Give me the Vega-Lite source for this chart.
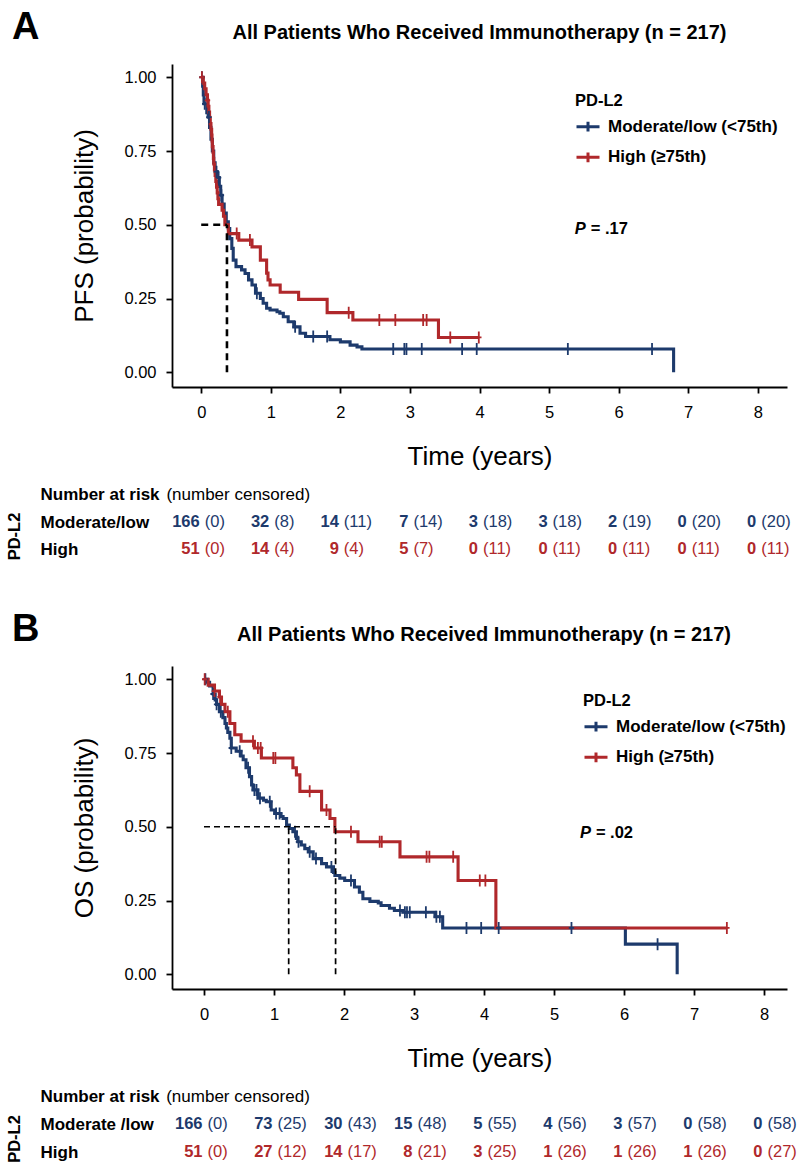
{
  "$schema": "https://vega.github.io/schema/vega-lite/v6.json",
  "padding": {"left": 6, "top": 8, "right": 5, "bottom": 5},
  "bounds": "flush",
  "spacing": 94.5,
  "config": {
    "font": "Liberation Sans",
    "view": {"stroke": null},
    "axis": {
      "grid": false,
      "domainColor": "black", "domainWidth": 1.8,
      "tickColor": "black", "tickWidth": 1.8, "tickSize": 6,
      "labelFont": "Liberation Sans", "labelFontSize": 16.5, "labelColor": "black",
      "titleFont": "Liberation Sans", "titleFontSize": 26, "titleFontWeight": "normal", "titleColor": "black"
    },
    "legend": {
      "titleFont": "Liberation Sans", "labelFont": "Liberation Sans",
      "titleFontSize": 16.5, "titleFontWeight": "bold", "titleColor": "black",
      "labelFontSize": 17, "labelFontWeight": "bold", "labelColor": "black", "labelLimit": 300,
      "symbolType": "M-1,0H1M0,-0.42V0.42", "symbolSize": 529, "symbolStrokeWidth": 3,
      "symbolFillColor": "transparent",
      "titlePadding": 4.7, "rowPadding": 6.6, "labelOffset": 7, "padding": 0
    }
  },
  "resolve": {"scale": {"x": "independent", "y": "independent", "color": "independent"}, "legend": {"color": "independent"}},
  "datasets": {
    "kmA": [
      {"g": "Moderate/low (<75th)", "t": 0, "s": 1},
      {"g": "Moderate/low (<75th)", "t": 0.02, "s": 0.97},
      {"g": "Moderate/low (<75th)", "t": 0.03, "s": 0.94},
      {"g": "Moderate/low (<75th)", "t": 0.04, "s": 0.91},
      {"g": "Moderate/low (<75th)", "t": 0.08, "s": 0.88},
      {"g": "Moderate/low (<75th)", "t": 0.1, "s": 0.865},
      {"g": "Moderate/low (<75th)", "t": 0.12, "s": 0.83},
      {"g": "Moderate/low (<75th)", "t": 0.14, "s": 0.79},
      {"g": "Moderate/low (<75th)", "t": 0.16, "s": 0.75},
      {"g": "Moderate/low (<75th)", "t": 0.18, "s": 0.71},
      {"g": "Moderate/low (<75th)", "t": 0.2, "s": 0.68},
      {"g": "Moderate/low (<75th)", "t": 0.23, "s": 0.66},
      {"g": "Moderate/low (<75th)", "t": 0.26, "s": 0.63},
      {"g": "Moderate/low (<75th)", "t": 0.28, "s": 0.6},
      {"g": "Moderate/low (<75th)", "t": 0.3, "s": 0.57},
      {"g": "Moderate/low (<75th)", "t": 0.33, "s": 0.54},
      {"g": "Moderate/low (<75th)", "t": 0.36, "s": 0.51},
      {"g": "Moderate/low (<75th)", "t": 0.39, "s": 0.487},
      {"g": "Moderate/low (<75th)", "t": 0.41, "s": 0.453},
      {"g": "Moderate/low (<75th)", "t": 0.44, "s": 0.42},
      {"g": "Moderate/low (<75th)", "t": 0.46, "s": 0.38},
      {"g": "Moderate/low (<75th)", "t": 0.5, "s": 0.358},
      {"g": "Moderate/low (<75th)", "t": 0.58, "s": 0.347},
      {"g": "Moderate/low (<75th)", "t": 0.63, "s": 0.335},
      {"g": "Moderate/low (<75th)", "t": 0.68, "s": 0.313},
      {"g": "Moderate/low (<75th)", "t": 0.73, "s": 0.296},
      {"g": "Moderate/low (<75th)", "t": 0.78, "s": 0.268},
      {"g": "Moderate/low (<75th)", "t": 0.85, "s": 0.25},
      {"g": "Moderate/low (<75th)", "t": 0.89, "s": 0.234},
      {"g": "Moderate/low (<75th)", "t": 0.94, "s": 0.217},
      {"g": "Moderate/low (<75th)", "t": 0.99, "s": 0.211},
      {"g": "Moderate/low (<75th)", "t": 1.09, "s": 0.205},
      {"g": "Moderate/low (<75th)", "t": 1.13, "s": 0.2},
      {"g": "Moderate/low (<75th)", "t": 1.18, "s": 0.188},
      {"g": "Moderate/low (<75th)", "t": 1.25, "s": 0.171},
      {"g": "Moderate/low (<75th)", "t": 1.33, "s": 0.154},
      {"g": "Moderate/low (<75th)", "t": 1.42, "s": 0.132},
      {"g": "Moderate/low (<75th)", "t": 1.5, "s": 0.121},
      {"g": "Moderate/low (<75th)", "t": 1.85, "s": 0.11},
      {"g": "Moderate/low (<75th)", "t": 2.0, "s": 0.103},
      {"g": "Moderate/low (<75th)", "t": 2.14, "s": 0.092},
      {"g": "Moderate/low (<75th)", "t": 2.24, "s": 0.086},
      {"g": "Moderate/low (<75th)", "t": 2.31, "s": 0.079},
      {"g": "Moderate/low (<75th)", "t": 6.79, "s": 0},
      {"g": "High (≥75th)", "t": 0, "s": 1},
      {"g": "High (≥75th)", "t": 0.03, "s": 0.98},
      {"g": "High (≥75th)", "t": 0.05, "s": 0.961},
      {"g": "High (≥75th)", "t": 0.07, "s": 0.941},
      {"g": "High (≥75th)", "t": 0.09, "s": 0.922},
      {"g": "High (≥75th)", "t": 0.1, "s": 0.902},
      {"g": "High (≥75th)", "t": 0.11, "s": 0.882},
      {"g": "High (≥75th)", "t": 0.12, "s": 0.863},
      {"g": "High (≥75th)", "t": 0.13, "s": 0.843},
      {"g": "High (≥75th)", "t": 0.14, "s": 0.824},
      {"g": "High (≥75th)", "t": 0.15, "s": 0.804},
      {"g": "High (≥75th)", "t": 0.155, "s": 0.784},
      {"g": "High (≥75th)", "t": 0.16, "s": 0.765},
      {"g": "High (≥75th)", "t": 0.17, "s": 0.745},
      {"g": "High (≥75th)", "t": 0.175, "s": 0.725},
      {"g": "High (≥75th)", "t": 0.18, "s": 0.706},
      {"g": "High (≥75th)", "t": 0.19, "s": 0.686},
      {"g": "High (≥75th)", "t": 0.2, "s": 0.667},
      {"g": "High (≥75th)", "t": 0.21, "s": 0.647},
      {"g": "High (≥75th)", "t": 0.22, "s": 0.627},
      {"g": "High (≥75th)", "t": 0.23, "s": 0.608},
      {"g": "High (≥75th)", "t": 0.24, "s": 0.588},
      {"g": "High (≥75th)", "t": 0.25, "s": 0.569},
      {"g": "High (≥75th)", "t": 0.3, "s": 0.549},
      {"g": "High (≥75th)", "t": 0.32, "s": 0.529},
      {"g": "High (≥75th)", "t": 0.34, "s": 0.5},
      {"g": "High (≥75th)", "t": 0.39, "s": 0.47},
      {"g": "High (≥75th)", "t": 0.54, "s": 0.448},
      {"g": "High (≥75th)", "t": 0.73, "s": 0.425},
      {"g": "High (≥75th)", "t": 0.85, "s": 0.38},
      {"g": "High (≥75th)", "t": 0.94, "s": 0.336},
      {"g": "High (≥75th)", "t": 0.96, "s": 0.313},
      {"g": "High (≥75th)", "t": 0.99, "s": 0.296},
      {"g": "High (≥75th)", "t": 1.135, "s": 0.271},
      {"g": "High (≥75th)", "t": 1.4, "s": 0.247},
      {"g": "High (≥75th)", "t": 1.81, "s": 0.202},
      {"g": "High (≥75th)", "t": 2.18, "s": 0.177},
      {"g": "High (≥75th)", "t": 3.41, "s": 0.118},
      {"g": "High (≥75th)", "t": 3.99, "s": 0.118}
    ],
    "cenA": [
      {"g": "Moderate/low (<75th)", "t": 0.01, "s": 1},
      {"g": "Moderate/low (<75th)", "t": 0.05, "s": 0.91},
      {"g": "Moderate/low (<75th)", "t": 0.11, "s": 0.865},
      {"g": "Moderate/low (<75th)", "t": 0.22, "s": 0.68},
      {"g": "Moderate/low (<75th)", "t": 0.25, "s": 0.66},
      {"g": "Moderate/low (<75th)", "t": 0.29, "s": 0.6},
      {"g": "Moderate/low (<75th)", "t": 0.8, "s": 0.268},
      {"g": "Moderate/low (<75th)", "t": 1.35, "s": 0.154},
      {"g": "Moderate/low (<75th)", "t": 1.61, "s": 0.121},
      {"g": "Moderate/low (<75th)", "t": 1.81, "s": 0.121},
      {"g": "Moderate/low (<75th)", "t": 2.76, "s": 0.079},
      {"g": "Moderate/low (<75th)", "t": 2.92, "s": 0.079},
      {"g": "Moderate/low (<75th)", "t": 2.95, "s": 0.079},
      {"g": "Moderate/low (<75th)", "t": 3.17, "s": 0.079},
      {"g": "Moderate/low (<75th)", "t": 3.75, "s": 0.079},
      {"g": "Moderate/low (<75th)", "t": 3.96, "s": 0.079},
      {"g": "Moderate/low (<75th)", "t": 5.27, "s": 0.079},
      {"g": "Moderate/low (<75th)", "t": 6.48, "s": 0.079},
      {"g": "High (≥75th)", "t": 0.01, "s": 1},
      {"g": "High (≥75th)", "t": 0.09, "s": 0.922},
      {"g": "High (≥75th)", "t": 0.51, "s": 0.47},
      {"g": "High (≥75th)", "t": 0.7, "s": 0.448},
      {"g": "High (≥75th)", "t": 2.12, "s": 0.202},
      {"g": "High (≥75th)", "t": 2.56, "s": 0.177},
      {"g": "High (≥75th)", "t": 2.79, "s": 0.177},
      {"g": "High (≥75th)", "t": 3.19, "s": 0.177},
      {"g": "High (≥75th)", "t": 3.24, "s": 0.177},
      {"g": "High (≥75th)", "t": 3.58, "s": 0.118},
      {"g": "High (≥75th)", "t": 3.99, "s": 0.118}
    ],
    "medA": [
      {"x1": 0, "x2": 0.37, "y1": 0.5, "y2": 0.5},
      {"x1": 0.37, "x2": 0.37, "y1": 0, "y2": 0.5}
    ],
    "kmB": [
      {"g": "Moderate/low (<75th)", "t": 0, "s": 1},
      {"g": "Moderate/low (<75th)", "t": 0.05, "s": 0.99},
      {"g": "Moderate/low (<75th)", "t": 0.08, "s": 0.977},
      {"g": "Moderate/low (<75th)", "t": 0.13, "s": 0.95},
      {"g": "Moderate/low (<75th)", "t": 0.16, "s": 0.93},
      {"g": "Moderate/low (<75th)", "t": 0.18, "s": 0.915},
      {"g": "Moderate/low (<75th)", "t": 0.22, "s": 0.89},
      {"g": "Moderate/low (<75th)", "t": 0.27, "s": 0.87},
      {"g": "Moderate/low (<75th)", "t": 0.3, "s": 0.85},
      {"g": "Moderate/low (<75th)", "t": 0.32, "s": 0.835},
      {"g": "Moderate/low (<75th)", "t": 0.34, "s": 0.82},
      {"g": "Moderate/low (<75th)", "t": 0.37, "s": 0.8},
      {"g": "Moderate/low (<75th)", "t": 0.39, "s": 0.767},
      {"g": "Moderate/low (<75th)", "t": 0.46, "s": 0.756},
      {"g": "Moderate/low (<75th)", "t": 0.53, "s": 0.74},
      {"g": "Moderate/low (<75th)", "t": 0.56, "s": 0.727},
      {"g": "Moderate/low (<75th)", "t": 0.6, "s": 0.7},
      {"g": "Moderate/low (<75th)", "t": 0.65, "s": 0.67},
      {"g": "Moderate/low (<75th)", "t": 0.68, "s": 0.642},
      {"g": "Moderate/low (<75th)", "t": 0.7, "s": 0.625},
      {"g": "Moderate/low (<75th)", "t": 0.77, "s": 0.597},
      {"g": "Moderate/low (<75th)", "t": 0.85, "s": 0.59},
      {"g": "Moderate/low (<75th)", "t": 0.89, "s": 0.585},
      {"g": "Moderate/low (<75th)", "t": 0.96, "s": 0.557},
      {"g": "Moderate/low (<75th)", "t": 1.01, "s": 0.545},
      {"g": "Moderate/low (<75th)", "t": 1.1, "s": 0.535},
      {"g": "Moderate/low (<75th)", "t": 1.13, "s": 0.528},
      {"g": "Moderate/low (<75th)", "t": 1.18, "s": 0.506},
      {"g": "Moderate/low (<75th)", "t": 1.22, "s": 0.494},
      {"g": "Moderate/low (<75th)", "t": 1.27, "s": 0.483},
      {"g": "Moderate/low (<75th)", "t": 1.32, "s": 0.46},
      {"g": "Moderate/low (<75th)", "t": 1.34, "s": 0.449},
      {"g": "Moderate/low (<75th)", "t": 1.39, "s": 0.438},
      {"g": "Moderate/low (<75th)", "t": 1.44, "s": 0.426},
      {"g": "Moderate/low (<75th)", "t": 1.49, "s": 0.415},
      {"g": "Moderate/low (<75th)", "t": 1.56, "s": 0.392},
      {"g": "Moderate/low (<75th)", "t": 1.68, "s": 0.375},
      {"g": "Moderate/low (<75th)", "t": 1.75, "s": 0.364},
      {"g": "Moderate/low (<75th)", "t": 1.85, "s": 0.345},
      {"g": "Moderate/low (<75th)", "t": 1.87, "s": 0.335},
      {"g": "Moderate/low (<75th)", "t": 1.94, "s": 0.326},
      {"g": "Moderate/low (<75th)", "t": 2.01, "s": 0.318},
      {"g": "Moderate/low (<75th)", "t": 2.15, "s": 0.296},
      {"g": "Moderate/low (<75th)", "t": 2.22, "s": 0.278},
      {"g": "Moderate/low (<75th)", "t": 2.27, "s": 0.256},
      {"g": "Moderate/low (<75th)", "t": 2.37, "s": 0.247},
      {"g": "Moderate/low (<75th)", "t": 2.49, "s": 0.242},
      {"g": "Moderate/low (<75th)", "t": 2.53, "s": 0.233},
      {"g": "Moderate/low (<75th)", "t": 2.65, "s": 0.224},
      {"g": "Moderate/low (<75th)", "t": 2.72, "s": 0.216},
      {"g": "Moderate/low (<75th)", "t": 2.84, "s": 0.21},
      {"g": "Moderate/low (<75th)", "t": 3.3, "s": 0.195},
      {"g": "Moderate/low (<75th)", "t": 3.41, "s": 0.157},
      {"g": "Moderate/low (<75th)", "t": 6.02, "s": 0.102},
      {"g": "Moderate/low (<75th)", "t": 6.76, "s": 0},
      {"g": "High (≥75th)", "t": 0, "s": 1},
      {"g": "High (≥75th)", "t": 0.06, "s": 0.98},
      {"g": "High (≥75th)", "t": 0.15, "s": 0.96},
      {"g": "High (≥75th)", "t": 0.22, "s": 0.94},
      {"g": "High (≥75th)", "t": 0.25, "s": 0.915},
      {"g": "High (≥75th)", "t": 0.3, "s": 0.89},
      {"g": "High (≥75th)", "t": 0.37, "s": 0.85},
      {"g": "High (≥75th)", "t": 0.44, "s": 0.812},
      {"g": "High (≥75th)", "t": 0.53, "s": 0.79},
      {"g": "High (≥75th)", "t": 0.72, "s": 0.767},
      {"g": "High (≥75th)", "t": 0.82, "s": 0.733},
      {"g": "High (≥75th)", "t": 1.27, "s": 0.7},
      {"g": "High (≥75th)", "t": 1.32, "s": 0.676},
      {"g": "High (≥75th)", "t": 1.37, "s": 0.62},
      {"g": "High (≥75th)", "t": 1.68, "s": 0.557},
      {"g": "High (≥75th)", "t": 1.8, "s": 0.528},
      {"g": "High (≥75th)", "t": 1.87, "s": 0.483},
      {"g": "High (≥75th)", "t": 2.2, "s": 0.449},
      {"g": "High (≥75th)", "t": 2.8, "s": 0.398},
      {"g": "High (≥75th)", "t": 3.63, "s": 0.318},
      {"g": "High (≥75th)", "t": 4.17, "s": 0.157},
      {"g": "High (≥75th)", "t": 7.47, "s": 0.157}
    ],
    "cenB": [
      {"g": "Moderate/low (<75th)", "t": 0.02, "s": 1},
      {"g": "Moderate/low (<75th)", "t": 0.13, "s": 0.95},
      {"g": "Moderate/low (<75th)", "t": 0.18, "s": 0.915},
      {"g": "Moderate/low (<75th)", "t": 0.24, "s": 0.89},
      {"g": "Moderate/low (<75th)", "t": 0.39, "s": 0.767},
      {"g": "Moderate/low (<75th)", "t": 0.51, "s": 0.756},
      {"g": "Moderate/low (<75th)", "t": 0.63, "s": 0.7},
      {"g": "Moderate/low (<75th)", "t": 0.72, "s": 0.625},
      {"g": "Moderate/low (<75th)", "t": 0.75, "s": 0.625},
      {"g": "Moderate/low (<75th)", "t": 0.8, "s": 0.597},
      {"g": "Moderate/low (<75th)", "t": 0.94, "s": 0.585},
      {"g": "Moderate/low (<75th)", "t": 1.03, "s": 0.545},
      {"g": "Moderate/low (<75th)", "t": 1.08, "s": 0.545},
      {"g": "Moderate/low (<75th)", "t": 1.3, "s": 0.483},
      {"g": "Moderate/low (<75th)", "t": 1.35, "s": 0.449},
      {"g": "Moderate/low (<75th)", "t": 1.51, "s": 0.415},
      {"g": "Moderate/low (<75th)", "t": 1.6, "s": 0.392},
      {"g": "Moderate/low (<75th)", "t": 1.82, "s": 0.364},
      {"g": "Moderate/low (<75th)", "t": 2.1, "s": 0.318},
      {"g": "Moderate/low (<75th)", "t": 2.8, "s": 0.216},
      {"g": "Moderate/low (<75th)", "t": 2.87, "s": 0.21},
      {"g": "Moderate/low (<75th)", "t": 2.9, "s": 0.21},
      {"g": "Moderate/low (<75th)", "t": 2.94, "s": 0.21},
      {"g": "Moderate/low (<75th)", "t": 3.17, "s": 0.21},
      {"g": "Moderate/low (<75th)", "t": 3.32, "s": 0.195},
      {"g": "Moderate/low (<75th)", "t": 3.37, "s": 0.195},
      {"g": "Moderate/low (<75th)", "t": 3.75, "s": 0.157},
      {"g": "Moderate/low (<75th)", "t": 3.96, "s": 0.157},
      {"g": "Moderate/low (<75th)", "t": 4.21, "s": 0.157},
      {"g": "Moderate/low (<75th)", "t": 5.25, "s": 0.157},
      {"g": "Moderate/low (<75th)", "t": 6.48, "s": 0.102},
      {"g": "High (≥75th)", "t": 0.01, "s": 1},
      {"g": "High (≥75th)", "t": 0.15, "s": 0.96},
      {"g": "High (≥75th)", "t": 0.23, "s": 0.94},
      {"g": "High (≥75th)", "t": 0.34, "s": 0.89},
      {"g": "High (≥75th)", "t": 0.7, "s": 0.79},
      {"g": "High (≥75th)", "t": 0.77, "s": 0.767},
      {"g": "High (≥75th)", "t": 0.81, "s": 0.767},
      {"g": "High (≥75th)", "t": 0.99, "s": 0.733},
      {"g": "High (≥75th)", "t": 1.02, "s": 0.733},
      {"g": "High (≥75th)", "t": 1.51, "s": 0.62},
      {"g": "High (≥75th)", "t": 1.75, "s": 0.557},
      {"g": "High (≥75th)", "t": 2.1, "s": 0.483},
      {"g": "High (≥75th)", "t": 2.51, "s": 0.449},
      {"g": "High (≥75th)", "t": 2.54, "s": 0.449},
      {"g": "High (≥75th)", "t": 3.18, "s": 0.398},
      {"g": "High (≥75th)", "t": 3.22, "s": 0.398},
      {"g": "High (≥75th)", "t": 3.56, "s": 0.398},
      {"g": "High (≥75th)", "t": 3.94, "s": 0.318},
      {"g": "High (≥75th)", "t": 4.02, "s": 0.318},
      {"g": "High (≥75th)", "t": 7.47, "s": 0.157}
    ],
    "medB": [
      {"x1": 0, "x2": 1.88, "y1": 0.5, "y2": 0.5},
      {"x1": 1.21, "x2": 1.21, "y1": 0, "y2": 0.5},
      {"x1": 1.88, "x2": 1.88, "y1": 0, "y2": 0.5}
    ],
    "riskA": [
      {"row": "Moderate/low", "g": "Moderate/low (<75th)", "t": 0, "n": 166, "cens": "(0)"},
      {"row": "Moderate/low", "g": "Moderate/low (<75th)", "t": 1, "n": 32, "cens": "(8)"},
      {"row": "Moderate/low", "g": "Moderate/low (<75th)", "t": 2, "n": 14, "cens": "(11)"},
      {"row": "Moderate/low", "g": "Moderate/low (<75th)", "t": 3, "n": 7, "cens": "(14)"},
      {"row": "Moderate/low", "g": "Moderate/low (<75th)", "t": 4, "n": 3, "cens": "(18)"},
      {"row": "Moderate/low", "g": "Moderate/low (<75th)", "t": 5, "n": 3, "cens": "(18)"},
      {"row": "Moderate/low", "g": "Moderate/low (<75th)", "t": 6, "n": 2, "cens": "(19)"},
      {"row": "Moderate/low", "g": "Moderate/low (<75th)", "t": 7, "n": 0, "cens": "(20)"},
      {"row": "Moderate/low", "g": "Moderate/low (<75th)", "t": 8, "n": 0, "cens": "(20)"},
      {"row": "High", "g": "High (≥75th)", "t": 0, "n": 51, "cens": "(0)"},
      {"row": "High", "g": "High (≥75th)", "t": 1, "n": 14, "cens": "(4)"},
      {"row": "High", "g": "High (≥75th)", "t": 2, "n": 9, "cens": "(4)"},
      {"row": "High", "g": "High (≥75th)", "t": 3, "n": 5, "cens": "(7)"},
      {"row": "High", "g": "High (≥75th)", "t": 4, "n": 0, "cens": "(11)"},
      {"row": "High", "g": "High (≥75th)", "t": 5, "n": 0, "cens": "(11)"},
      {"row": "High", "g": "High (≥75th)", "t": 6, "n": 0, "cens": "(11)"},
      {"row": "High", "g": "High (≥75th)", "t": 7, "n": 0, "cens": "(11)"},
      {"row": "High", "g": "High (≥75th)", "t": 8, "n": 0, "cens": "(11)"}
    ],
    "riskB": [
      {"row": "Moderate /low", "g": "Moderate/low (<75th)", "t": 0, "n": 166, "cens": "(0)"},
      {"row": "Moderate /low", "g": "Moderate/low (<75th)", "t": 1, "n": 73, "cens": "(25)"},
      {"row": "Moderate /low", "g": "Moderate/low (<75th)", "t": 2, "n": 30, "cens": "(43)"},
      {"row": "Moderate /low", "g": "Moderate/low (<75th)", "t": 3, "n": 15, "cens": "(48)"},
      {"row": "Moderate /low", "g": "Moderate/low (<75th)", "t": 4, "n": 5, "cens": "(55)"},
      {"row": "Moderate /low", "g": "Moderate/low (<75th)", "t": 5, "n": 4, "cens": "(56)"},
      {"row": "Moderate /low", "g": "Moderate/low (<75th)", "t": 6, "n": 3, "cens": "(57)"},
      {"row": "Moderate /low", "g": "Moderate/low (<75th)", "t": 7, "n": 0, "cens": "(58)"},
      {"row": "Moderate /low", "g": "Moderate/low (<75th)", "t": 8, "n": 0, "cens": "(58)"},
      {"row": "High", "g": "High (≥75th)", "t": 0, "n": 51, "cens": "(0)"},
      {"row": "High", "g": "High (≥75th)", "t": 1, "n": 27, "cens": "(12)"},
      {"row": "High", "g": "High (≥75th)", "t": 2, "n": 14, "cens": "(17)"},
      {"row": "High", "g": "High (≥75th)", "t": 3, "n": 8, "cens": "(21)"},
      {"row": "High", "g": "High (≥75th)", "t": 4, "n": 3, "cens": "(25)"},
      {"row": "High", "g": "High (≥75th)", "t": 5, "n": 1, "cens": "(26)"},
      {"row": "High", "g": "High (≥75th)", "t": 6, "n": 1, "cens": "(26)"},
      {"row": "High", "g": "High (≥75th)", "t": 7, "n": 1, "cens": "(26)"},
      {"row": "High", "g": "High (≥75th)", "t": 8, "n": 0, "cens": "(27)"}
    ]
  },
  "vconcat": [
    {
      "width": 615, "height": 323,
      "encoding": {
        "x": {"type": "quantitative", "scale": {"domain": [-0.42, 8.42], "nice": false, "zero": false}},
        "y": {"type": "quantitative", "scale": {"domain": [-0.05, 1.045], "nice": false, "zero": false}}
      },
      "layer": [
        {
          "data": {"name": "kmA"},
          "mark": {"type": "line", "interpolate": "step-after", "strokeWidth": 3.1},
          "encoding": {
            "x": {"field": "t", "type": "quantitative", "axis": {"values": [0,1,2,3,4,5,6,7,8], "format": "d", "title": "Time (years)", "labelPadding": 11, "titlePadding": 23}},
            "y": {"field": "s", "type": "quantitative", "axis": {"values": [0,0.25,0.5,0.75,1], "format": ".2f", "title": "PFS (probability)", "labelPadding": 10, "titlePadding": 26}},
            "color": {"field": "g", "type": "nominal", "scale": {"domain": ["Moderate/low (<75th)", "High (≥75th)"], "range": ["#1d3a6c", "#b0282b"]},
              "legend": {"title": "PD-L2", "orient": "none", "legendX": 403, "legendY": 28.5}}
          }
        },
        {
          "data": {"name": "cenA"},
          "mark": {"type": "point", "shape": "M0,-1V1M-0.45,0H0.45", "size": 144, "strokeWidth": 1.8, "filled": false, "opacity": 1},
          "encoding": {
            "x": {"field": "t", "type": "quantitative"},
            "y": {"field": "s", "type": "quantitative"},
            "color": {"field": "g", "type": "nominal"}
          }
        },
        {
          "data": {"name": "medA"},
          "mark": {"type": "rule", "color": "black", "strokeWidth": 2.6, "strokeDash": [7, 5]},
          "encoding": {
            "x": {"field": "x1", "type": "quantitative"}, "x2": {"field": "x2"},
            "y": {"field": "y1", "type": "quantitative"}, "y2": {"field": "y2"}
          }
        },
        {
          "data": {"values": [{"lab": "A"}]},
          "mark": {"type": "text", "fontSize": 38, "fontWeight": "bold", "align": "left", "baseline": "alphabetic", "color": "black"},
          "encoding": {"x": {"datum": -2.72, "type": "quantitative"}, "y": {"datum": 1.13, "type": "quantitative"}, "text": {"field": "lab"}}
        },
        {
          "data": {"values": [{"lab": "All Patients Who Received Immunotherapy (n = 217)"}]},
          "mark": {"type": "text", "fontSize": 20, "fontWeight": "bold", "align": "center", "baseline": "alphabetic", "color": "black"},
          "encoding": {"x": {"datum": 4.0, "type": "quantitative"}, "y": {"datum": 1.13, "type": "quantitative"}, "text": {"field": "lab"}}
        },
        {
          "data": {"values": [{"lab": "P"}]},
          "mark": {"type": "text", "fontSize": 16.5, "fontWeight": "bold", "fontStyle": "italic", "align": "left", "baseline": "middle", "color": "black"},
          "encoding": {"x": {"datum": 5.37, "type": "quantitative"}, "y": {"datum": 0.486, "type": "quantitative"}, "text": {"field": "lab"}}
        },
        {
          "data": {"values": [{"lab": "= .17"}]},
          "mark": {"type": "text", "fontSize": 16.5, "fontWeight": "bold", "align": "left", "baseline": "middle", "dx": 16, "color": "black"},
          "encoding": {"x": {"datum": 5.37, "type": "quantitative"}, "y": {"datum": 0.486, "type": "quantitative"}, "text": {"field": "lab"}}
        }
      ]
    },
    {
      "width": 615, "height": 90,
      "encoding": {
        "x": {"type": "quantitative", "scale": {"domain": [-0.42, 8.42], "nice": false, "zero": false}, "axis": null},
        "y": {"field": "row", "type": "nominal",
          "scale": {"type": "point", "domain": ["Number at risk", "Moderate/low", "High"], "padding": 0.654, "align": 0.379},
          "axis": {"title": "PD-L2", "titleX": -149.6, "titleY": 54.5, "titleFontSize": 16.5, "titleFontWeight": "bold",
            "domain": false, "ticks": false, "labelAlign": "left", "labelPadding": 132, "labelFontSize": 17, "labelFontWeight": "bold", "labelLimit": 300}}
      },
      "layer": [
        {
          "data": {"name": "riskA"},
          "mark": {"type": "text", "align": "right", "dx": -1.5, "fontWeight": "bold", "fontSize": 16.5, "baseline": "middle"},
          "encoding": {
            "x": {"field": "t", "type": "quantitative"},
            "text": {"field": "n"},
            "color": {"field": "g", "type": "nominal", "scale": {"domain": ["Moderate/low (<75th)", "High (≥75th)"], "range": ["#1d3a6c", "#b0282b"]}, "legend": null}
          }
        },
        {
          "data": {"name": "riskA"},
          "mark": {"type": "text", "align": "left", "dx": 3.5, "fontSize": 16.5, "baseline": "middle"},
          "encoding": {
            "x": {"field": "t", "type": "quantitative"},
            "text": {"field": "cens"},
            "color": {"field": "g", "type": "nominal", "legend": null}
          }
        },
        {
          "data": {"values": [{"row": "Number at risk", "lab": "(number censored)"}]},
          "mark": {"type": "text", "align": "left", "fontSize": 17, "baseline": "middle", "color": "black"},
          "encoding": {"x": {"datum": -0.5, "type": "quantitative"}, "text": {"field": "lab"}}
        }
      ]
    },
    {
      "width": 615, "height": 323,
      "encoding": {
        "x": {"type": "quantitative", "scale": {"domain": [-0.457, 8.329], "nice": false, "zero": false}},
        "y": {"type": "quantitative", "scale": {"domain": [-0.05, 1.045], "nice": false, "zero": false}}
      },
      "layer": [
        {
          "data": {"name": "kmB"},
          "mark": {"type": "line", "interpolate": "step-after", "strokeWidth": 3.1},
          "encoding": {
            "x": {"field": "t", "type": "quantitative", "axis": {"values": [0,1,2,3,4,5,6,7,8], "format": "d", "title": "Time (years)", "labelPadding": 11, "titlePadding": 23}},
            "y": {"field": "s", "type": "quantitative", "axis": {"values": [0,0.25,0.5,0.75,1], "format": ".2f", "title": "OS (probability)", "labelPadding": 10, "titlePadding": 26}},
            "color": {"field": "g", "type": "nominal", "scale": {"domain": ["Moderate/low (<75th)", "High (≥75th)"], "range": ["#1d3a6c", "#b0282b"]},
              "legend": {"title": "PD-L2", "orient": "none", "legendX": 411, "legendY": 26.5}}
          }
        },
        {
          "data": {"name": "cenB"},
          "mark": {"type": "point", "shape": "M0,-1V1M-0.45,0H0.45", "size": 144, "strokeWidth": 1.8, "filled": false, "opacity": 1},
          "encoding": {
            "x": {"field": "t", "type": "quantitative"},
            "y": {"field": "s", "type": "quantitative"},
            "color": {"field": "g", "type": "nominal"}
          }
        },
        {
          "data": {"name": "medB"},
          "mark": {"type": "rule", "color": "black", "strokeWidth": 1.7, "strokeDash": [6, 4]},
          "encoding": {
            "x": {"field": "x1", "type": "quantitative"}, "x2": {"field": "x2"},
            "y": {"field": "y1", "type": "quantitative"}, "y2": {"field": "y2"}
          }
        },
        {
          "data": {"values": [{"lab": "B"}]},
          "mark": {"type": "text", "fontSize": 38, "fontWeight": "bold", "align": "left", "baseline": "alphabetic", "color": "black"},
          "encoding": {"x": {"datum": -2.743, "type": "quantitative"}, "y": {"datum": 1.13, "type": "quantitative"}, "text": {"field": "lab"}}
        },
        {
          "data": {"values": [{"lab": "All Patients Who Received Immunotherapy (n = 217)"}]},
          "mark": {"type": "text", "fontSize": 20, "fontWeight": "bold", "align": "center", "baseline": "alphabetic", "color": "black"},
          "encoding": {"x": {"datum": 4.0, "type": "quantitative"}, "y": {"datum": 1.13, "type": "quantitative"}, "text": {"field": "lab"}}
        },
        {
          "data": {"values": [{"lab": "P"}]},
          "mark": {"type": "text", "fontSize": 16.5, "fontWeight": "bold", "fontStyle": "italic", "align": "left", "baseline": "middle", "color": "black"},
          "encoding": {"x": {"datum": 5.37, "type": "quantitative"}, "y": {"datum": 0.48, "type": "quantitative"}, "text": {"field": "lab"}}
        },
        {
          "data": {"values": [{"lab": "= .02"}]},
          "mark": {"type": "text", "fontSize": 16.5, "fontWeight": "bold", "align": "left", "baseline": "middle", "dx": 16, "color": "black"},
          "encoding": {"x": {"datum": 5.37, "type": "quantitative"}, "y": {"datum": 0.48, "type": "quantitative"}, "text": {"field": "lab"}}
        }
      ]
    },
    {
      "width": 615, "height": 85,
      "encoding": {
        "x": {"type": "quantitative", "scale": {"domain": [-0.457, 8.329], "nice": false, "zero": false}, "axis": null},
        "y": {"field": "row", "type": "nominal",
          "scale": {"type": "point", "domain": ["Number at risk", "Moderate /low", "High"], "padding": 0.534, "align": 0.446},
          "axis": {"title": "PD-L2", "titleX": -149.6, "titleY": 55, "titleFontSize": 16.5, "titleFontWeight": "bold",
            "domain": false, "ticks": false, "labelAlign": "left", "labelPadding": 132, "labelFontSize": 17, "labelFontWeight": "bold", "labelLimit": 300}}
      },
      "layer": [
        {
          "data": {"name": "riskB"},
          "mark": {"type": "text", "align": "right", "dx": -1.5, "fontWeight": "bold", "fontSize": 16.5, "baseline": "middle"},
          "encoding": {
            "x": {"field": "t", "type": "quantitative"},
            "text": {"field": "n"},
            "color": {"field": "g", "type": "nominal", "scale": {"domain": ["Moderate/low (<75th)", "High (≥75th)"], "range": ["#1d3a6c", "#b0282b"]}, "legend": null}
          }
        },
        {
          "data": {"name": "riskB"},
          "mark": {"type": "text", "align": "left", "dx": 3.5, "fontSize": 16.5, "baseline": "middle"},
          "encoding": {
            "x": {"field": "t", "type": "quantitative"},
            "text": {"field": "cens"},
            "color": {"field": "g", "type": "nominal", "legend": null}
          }
        },
        {
          "data": {"values": [{"row": "Number at risk", "lab": "(number censored)"}]},
          "mark": {"type": "text", "align": "left", "fontSize": 17, "baseline": "middle", "color": "black"},
          "encoding": {"x": {"datum": -0.54, "type": "quantitative"}, "text": {"field": "lab"}}
        }
      ]
    }
  ]
}
